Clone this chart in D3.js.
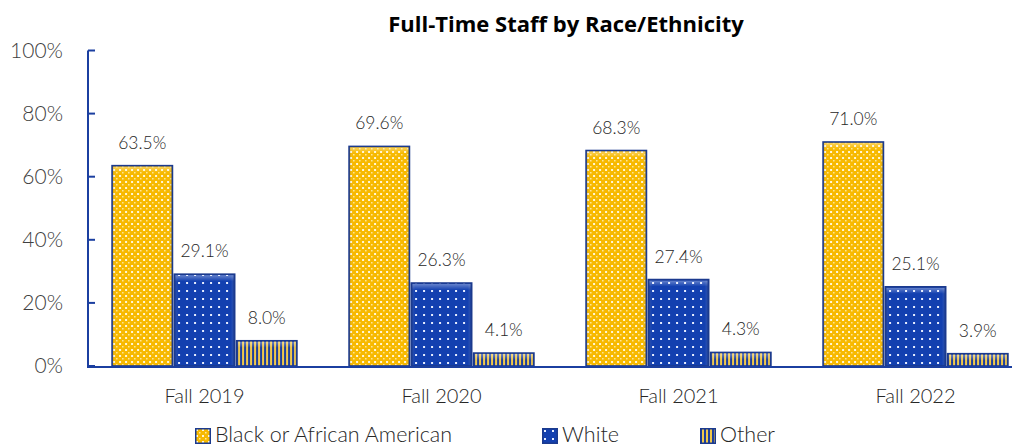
<!DOCTYPE html>
<html><head><meta charset="utf-8">
<script src="https://cdn.jsdelivr.net/npm/d3@7"></script>
<style>body{margin:0;background:#fff;} svg{display:block;}</style>
</head><body>
<script>
const categories = ["Fall 2019", "Fall 2020", "Fall 2021", "Fall 2022"];
const seriesNames = ["Black or African American", "White", "Other"];
const blackValues = [63.5, 69.6, 68.3, 71.0];
const whiteValues = [29.1, 26.3, 27.4, 25.1];
const otherValues = [8.0, 4.1, 4.3, 3.9];
const yTicks = [0, 20, 40, 60, 80, 100];
const title = "Full-Time Staff by Race/Ethnicity";

const W = 1021, H = 447;
const svg = d3.select("body").append("svg").attr("width", W).attr("height", H);
const defs = svg.append("defs");

// patterns
const pGold = defs.append("pattern").attr("id","pGold").attr("patternUnits","userSpaceOnUse").attr("width",6).attr("height",6);
pGold.append("rect").attr("width",6).attr("height",6).attr("fill","#F7B900");
pGold.append("rect").attr("x",1).attr("y",1).attr("width",2).attr("height",2).attr("fill","#FFF6D8");
pGold.append("rect").attr("x",4).attr("y",4).attr("width",1.5).attr("height",1.5).attr("fill","#FFE9A0");

const pBlue = defs.append("pattern").attr("id","pBlue").attr("patternUnits","userSpaceOnUse").attr("width",8).attr("height",8);
pBlue.append("rect").attr("width",8).attr("height",8).attr("fill","#1340B0");
pBlue.append("rect").attr("x",2).attr("y",2).attr("width",2).attr("height",2).attr("fill","#E8EEFF");

const pOther = defs.append("pattern").attr("id","pOther").attr("patternUnits","userSpaceOnUse").attr("width",4).attr("height",4);
pOther.append("rect").attr("width",4).attr("height",4).attr("fill","#F0C84A");
pOther.append("rect").attr("x",0).attr("y",0).attr("width",2).attr("height",4).attr("fill","#1D3F9E");

const fills = ["url(#pGold)", "url(#pBlue)", "url(#pOther)"];

// bevel gradients
const gH = defs.append("linearGradient").attr("id","bevelH").attr("x1",0).attr("x2",1).attr("y1",0).attr("y2",0);
gH.append("stop").attr("offset","0").attr("stop-color","#000").attr("stop-opacity",0.25);
gH.append("stop").attr("offset","0.06").attr("stop-color","#fff").attr("stop-opacity",0.0);
gH.append("stop").attr("offset","0.94").attr("stop-color","#fff").attr("stop-opacity",0.0);
gH.append("stop").attr("offset","1").attr("stop-color","#000").attr("stop-opacity",0.3);
const gV = defs.append("linearGradient").attr("id","bevelV").attr("x1",0).attr("x2",0).attr("y1",0).attr("y2",1);
gV.append("stop").attr("offset","0").attr("stop-color","#fff").attr("stop-opacity",0.35);
gV.append("stop").attr("offset","1").attr("stop-color","#fff").attr("stop-opacity",0.0);

const plotLeft = 86, step = 237;
const x0 = d3.scaleBand().domain(categories).range([plotLeft, plotLeft + step*4]).paddingInner(0.22).paddingOuter(0.11);
const x1 = d3.scaleBand().domain(seriesNames).range([0, x0.bandwidth()]).paddingInner(0.03);
const y = d3.scaleLinear().domain([0, 100]).range([366, 50.5]);

const data = categories.map((c,i)=>({cat:c, vals:[blackValues[i], whiteValues[i], otherValues[i]]}));

const FONT = "Lato, sans-serif";

// title
svg.append("text").attr("x", 566).attr("y", 32).attr("text-anchor","middle")
  .attr("font-family","'Open Sans', sans-serif").attr("font-weight","bold").attr("font-size",22)
  .attr("fill","#000").text(title);

// y axis
const axisColor = "#1B3FA0";
const yAxis = svg.append("g").attr("transform", `translate(88,0)`);
yAxis.append("line").attr("x1",0).attr("x2",0).attr("y1",y(100)).attr("y2",y(0)).attr("stroke",axisColor).attr("stroke-width",2);
yAxis.selectAll("line.t").data(yTicks).join("line").attr("class","t")
  .attr("x1",0).attr("x2",7).attr("y1",d=>y(d)).attr("y2",d=>y(d)).attr("stroke",axisColor).attr("stroke-width",2);
yAxis.selectAll("text").data(yTicks).join("text")
  .attr("x",-25).attr("y",d=>y(d)+7).attr("text-anchor","end")
  .attr("font-family",FONT).attr("font-weight",300).attr("font-size",21)
  .attr("fill","#404040").text(d=>d+"%");

// bars
const groups = svg.selectAll("g.grp").data(data).join("g").attr("class","grp")
  .attr("transform", d=>`translate(${x0(d.cat)},0)`);
groups.each(function(d){
  const g = d3.select(this);
  d.vals.forEach((v,k)=>{
    const bx = x1(seriesNames[k]), bw = x1.bandwidth(), by = y(v), bh = y(0)-y(v);
    g.append("rect").attr("x",bx).attr("y",by).attr("width",bw).attr("height",bh).attr("fill",fills[k]);
    g.append("rect").attr("x",bx).attr("y",by).attr("width",bw).attr("height",bh).attr("fill","url(#bevelH)");
    g.append("rect").attr("x",bx+1).attr("y",by+1).attr("width",bw-2).attr("height",Math.min(6,bh-1)).attr("fill","url(#bevelV)");
    g.append("rect").attr("x",bx).attr("y",by).attr("width",bw).attr("height",bh)
      .attr("fill","none").attr("stroke","#1B3A8E").attr("stroke-width",1.6);
    g.append("text").attr("x",bx+bw/2).attr("y",by-17).attr("text-anchor","middle")
      .attr("font-family",FONT).attr("font-weight",300).attr("font-size",17.5)
      .attr("fill","#262626").text(v.toFixed(1)+"%");
  });
});

// baseline
svg.append("line").attr("x1",87).attr("x2",1012).attr("y1",y(0)+1).attr("y2",y(0)+1).attr("stroke",axisColor).attr("stroke-width",2);

// x labels
svg.selectAll("text.xl").data(categories).join("text").attr("class","xl")
  .attr("x",d=>x0(d)+x0.bandwidth()/2).attr("y",403).attr("text-anchor","middle")
  .attr("font-family",FONT).attr("font-weight",300).attr("font-size",20)
  .attr("fill","#262626").text(d=>d);

// legend
const legendX = [195, 542, 700];
const leg = svg.selectAll("g.leg").data(seriesNames).join("g").attr("class","leg")
  .attr("transform",(d,i)=>`translate(${legendX[i]},428)`);
leg.append("rect").attr("x",0.75).attr("y",0.75).attr("width",14.5).attr("height",14.5).attr("fill",(d,i)=>fills[i]).attr("stroke","#1B3A8E").attr("stroke-width",1.5);
leg.append("text").attr("x",20).attr("y",14).attr("font-family",FONT).attr("font-weight",300).attr("font-size",21.5)
  .attr("fill","#262626").text(d=>d);
</script>
</body></html>
